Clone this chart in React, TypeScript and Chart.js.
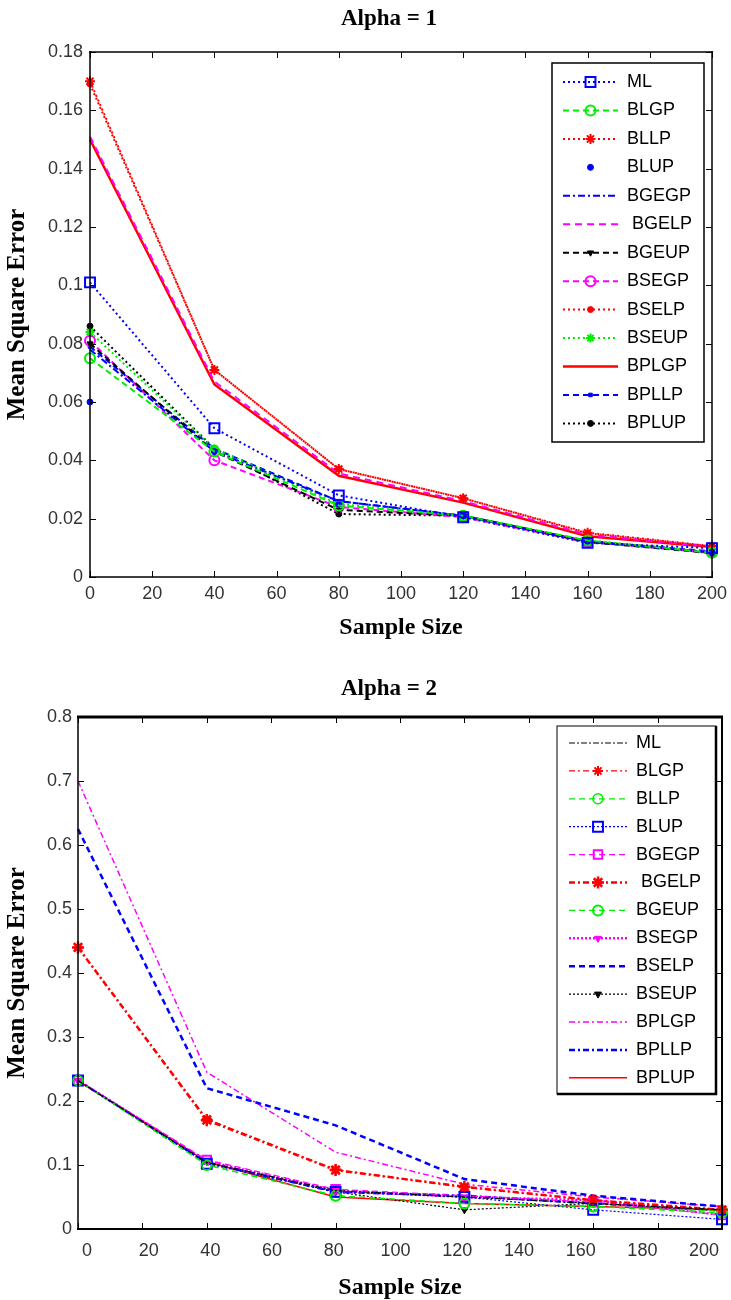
import React, { useEffect, useRef } from 'react';
import { Chart, registerables } from 'chart.js';
import { drawPoint } from 'chart.js/helpers';

Chart.register(...registerables);

// ---------- data ----------
const sampleSizes = [0, 40, 80, 120, 160, 200];
const xTickValues = [0, 20, 40, 60, 80, 100, 120, 140, 160, 180, 200];
const seriesNames = ['ML', 'BLGP', 'BLLP', 'BLUP', 'BGEGP', ' BGELP', 'BGEUP', 'BSEGP', 'BSELP', 'BSEUP', 'BPLGP', 'BPLLP', 'BPLUP'];

// Alpha = 1
const a1ML = [0.101, 0.051, 0.028, 0.0205, 0.0117, 0.0099];
const a1BLGP = [0.075, 0.043, 0.0245, 0.021, 0.0125, 0.0083];
const a1BLLP = [0.170, 0.071, 0.037, 0.027, 0.0152, 0.0106];
const a1BLUP = [0.060, 0.043, 0.025, 0.021, 0.012, 0.0085];
const a1BGEGP = [0.078, 0.043, 0.026, 0.021, 0.0122, 0.0085];
const a1BGELP = [0.151, 0.067, 0.0355, 0.026, 0.0145, 0.0104];
const a1BGEUP = [0.080, 0.043, 0.023, 0.021, 0.012, 0.0082];
const a1BSEGP = [0.081, 0.040, 0.024, 0.0205, 0.012, 0.0085];
const a1BSELP = [0.169, 0.071, 0.037, 0.027, 0.015, 0.0105];
const a1BSEUP = [0.084, 0.044, 0.025, 0.021, 0.0125, 0.0085];
const a1BPLGP = [0.150, 0.066, 0.0347, 0.0255, 0.014, 0.0103];
const a1BPLLP = [0.079, 0.044, 0.026, 0.021, 0.0122, 0.0088];
const a1BPLUP = [0.086, 0.044, 0.0216, 0.021, 0.0123, 0.0082];

// Alpha = 2
const a2ML = [0.232, 0.104, 0.060, 0.050, 0.040, 0.030];
const a2BLGP = [0.440, 0.172, 0.093, 0.065, 0.045, 0.030];
const a2BLLP = [0.232, 0.100, 0.052, 0.040, 0.035, 0.025];
const a2BLUP = [0.232, 0.102, 0.058, 0.050, 0.030, 0.015];
const a2BGEGP = [0.232, 0.108, 0.062, 0.052, 0.042, 0.022];
const a2BGELP = [0.440, 0.170, 0.092, 0.066, 0.045, 0.030];
const a2BGEUP = [0.232, 0.100, 0.052, 0.040, 0.035, 0.028];
const a2BSEGP = [0.232, 0.106, 0.060, 0.050, 0.045, 0.022];
const a2BSELP = [0.625, 0.220, 0.162, 0.078, 0.052, 0.035];
const a2BSEUP = [0.232, 0.105, 0.058, 0.030, 0.040, 0.028];
const a2BPLGP = [0.700, 0.245, 0.120, 0.070, 0.050, 0.035];
const a2BPLLP = [0.232, 0.104, 0.058, 0.052, 0.040, 0.030];
const a2BPLUP = [0.232, 0.105, 0.050, 0.040, 0.035, 0.030];

const alpha1Series = [a1ML, a1BLGP, a1BLLP, a1BLUP, a1BGEGP, a1BGELP, a1BGEUP, a1BSEGP, a1BSELP, a1BSEUP, a1BPLGP, a1BPLLP, a1BPLUP];
const alpha2Series = [a2ML, a2BLGP, a2BLLP, a2BLUP, a2BGEGP, a2BGELP, a2BGEUP, a2BSEGP, a2BSELP, a2BSEUP, a2BPLGP, a2BPLLP, a2BPLUP];

const xMin = 0;
const xMax = 200;
const yMaxAlpha1 = 0.18;
const yStepAlpha1 = 0.02;
const yMaxAlpha2 = 0.8;
const yStepAlpha2 = 0.1;
// the lower figure prints its x labels on a slightly narrower span than its tick marks
const alpha2LabelRange = [-2.9, 205.8];

// ---------- styles ----------
const BLUE = '#0000ff';
const GREEN = '#00ee00';
const RED = '#ff0000';
const MAG = '#ff00ff';
const BLK = '#000000';
const DOT = [2, 3];
const DASH = [6, 4];
const DASHDOT = [7, 3, 2, 3];

const alpha1Styles: any[] = [
  { color: BLUE, dash: DOT, width: 2, point: 'rect', radius: 7, fill: false, pbw: 2 },
  { color: GREEN, dash: DASH, width: 2, point: 'circle', radius: 5, fill: false, pbw: 2 },
  { color: RED, dash: DOT, width: 2, point: 'star', radius: 5, fill: true, pbw: 2 },
  { color: BLUE, dash: [], width: 1, point: 'circle', radius: 3, fill: true, pbw: 1, showLine: false },
  { color: BLUE, dash: DASHDOT, width: 2, point: false, radius: 0, fill: true },
  { color: MAG, dash: [7, 5], width: 2, point: false, radius: 0, fill: true },
  { color: BLK, dash: DASH, width: 2, point: 'triangle', radius: 3.5, fill: true, pbw: 1, rotation: 180 },
  { color: MAG, dash: DASH, width: 2, point: 'circle', radius: 5, fill: false, pbw: 2 },
  { color: RED, dash: DOT, width: 2, point: 'circle', radius: 3, fill: true, pbw: 1 },
  { color: GREEN, dash: DOT, width: 2, point: 'star', radius: 4.5, fill: true, pbw: 2 },
  { color: RED, dash: [], width: 2.5, point: false, radius: 0, fill: true },
  { color: BLUE, dash: DASH, width: 2, point: 'rect', radius: 2.5, fill: true, pbw: 1 },
  { color: BLK, dash: DOT, width: 2, point: 'circle', radius: 3, fill: true, pbw: 1 },
];

const alpha2Styles: any[] = [
  { color: BLK, dash: [6, 2, 2, 2], width: 1.2, point: false, radius: 0, fill: true },
  { color: RED, dash: [6, 3, 2, 3], width: 1.2, point: 'star', radius: 5, fill: true, pbw: 2 },
  { color: GREEN, dash: DASH, width: 1.2, point: 'circle', radius: 5, fill: false, pbw: 1.5 },
  { color: BLUE, dash: [2, 2], width: 1.2, point: 'rect', radius: 7, fill: false, pbw: 2 },
  { color: MAG, dash: DASH, width: 1.2, point: 'rect', radius: 6, fill: false, pbw: 2 },
  { color: RED, dash: [6, 3, 2, 3], width: 2.5, point: 'star', radius: 6, fill: true, pbw: 2.5 },
  { color: GREEN, dash: DASH, width: 1.2, point: 'circle', radius: 5, fill: false, pbw: 2 },
  { color: MAG, dash: [2, 2], width: 2.5, point: 'triangle', radius: 4, fill: true, pbw: 1, rotation: 180 },
  { color: BLUE, dash: [6, 4], width: 2.5, point: false, radius: 0, fill: true },
  { color: BLK, dash: [2, 2], width: 1.2, point: 'triangle', radius: 4, fill: true, pbw: 1, rotation: 180 },
  { color: MAG, dash: [6, 3, 2, 3], width: 1.5, point: false, radius: 0, fill: true },
  { color: BLUE, dash: [6, 3, 2, 3], width: 2.5, point: false, radius: 0, fill: true },
  { color: RED, dash: [], width: 1.5, point: false, radius: 0, fill: true },
];

function makeDataset(label: string, values: number[], s: any) {
  return {
    label,
    xAxisID: 'x',
    yAxisID: 'y',
    data: sampleSizes.map((x, i) => ({ x, y: values[i] })),
    borderColor: s.color,
    borderDash: s.dash,
    borderWidth: s.width,
    pointStyle: s.point || 'circle',
    pointRadius: s.point ? s.radius : 0,
    pointHoverRadius: s.point ? s.radius : 0,
    pointBorderColor: s.color,
    pointBackgroundColor: s.fill ? s.color : 'rgba(255,255,255,0)',
    pointBorderWidth: s.pbw ?? 1,
    pointRotation: s.rotation || 0,
    showLine: s.showLine !== false,
    tension: 0,
    fill: false,
    clip: false,
  };
}

// ---------- plugins ----------
const framePlugin = {
  id: 'frame',
  afterDatasetsDraw(chart: any, _args: any, opts: any) {
    const { ctx, chartArea } = chart;
    const { left, right, top, bottom } = chartArea;
    const xs = chart.scales.x;
    const ys = chart.scales.y;
    ctx.save();
    ctx.setLineDash([]);
    ctx.strokeStyle = '#000';
    ctx.lineWidth = 1;
    ctx.beginPath();
    xTickValues.forEach((v) => {
      const px = Math.round(xs.getPixelForValue(v)) + 0.5;
      ctx.moveTo(px, bottom);
      ctx.lineTo(px, bottom - opts.tickLen);
      ctx.moveTo(px, top);
      ctx.lineTo(px, top + opts.tickLen);
    });
    ys.ticks.forEach((t: any) => {
      const py = Math.round(ys.getPixelForValue(t.value)) + 0.5;
      ctx.moveTo(left, py);
      ctx.lineTo(left + opts.tickLen, py);
      ctx.moveTo(right, py);
      ctx.lineTo(right - opts.tickLen, py);
    });
    ctx.stroke();
    const edge = (w: number, x1: number, y1: number, x2: number, y2: number) => {
      ctx.lineWidth = w;
      ctx.beginPath();
      ctx.moveTo(x1, y1);
      ctx.lineTo(x2, y2);
      ctx.stroke();
    };
    edge(opts.topW, left - 1, top, right + 1, top);
    edge(opts.bottomW, left - 1, bottom, right + 1, bottom);
    edge(opts.leftW, left, top - 1, left, bottom + 1);
    edge(opts.rightW, right, top - 1, right, bottom + 1);
    ctx.restore();
  },
};

const boxLegendPlugin = {
  id: 'boxLegend',
  afterDraw(chart: any, _args: any, opts: any) {
    const { ctx, chartArea } = chart;
    const left = chartArea.right - opts.offsetRight;
    const top = chartArea.top + opts.offsetTop;
    ctx.save();
    ctx.setLineDash([]);
    ctx.fillStyle = '#fff';
    ctx.fillRect(left, top, opts.width, opts.height);
    ctx.strokeStyle = '#000';
    ctx.lineWidth = opts.borderWidth;
    ctx.strokeRect(left, top, opts.width, opts.height);
    if (opts.shadow) {
      ctx.lineWidth = opts.shadow;
      ctx.beginPath();
      ctx.moveTo(left + opts.width, top);
      ctx.lineTo(left + opts.width, top + opts.height);
      ctx.lineTo(left, top + opts.height);
      ctx.stroke();
    }
    chart.data.datasets.forEach((ds: any, i: number) => {
      const y = top + opts.firstRow + i * opts.rowGap;
      const x1 = left + opts.lineStart;
      const x2 = left + opts.lineEnd;
      if (ds.showLine !== false) {
        ctx.beginPath();
        ctx.setLineDash(ds.borderDash || []);
        ctx.lineWidth = ds.borderWidth;
        ctx.strokeStyle = ds.borderColor;
        ctx.moveTo(x1, y);
        ctx.lineTo(x2, y);
        ctx.stroke();
      }
      if (ds.pointRadius > 0) {
        ctx.setLineDash([]);
        ctx.fillStyle = ds.pointBackgroundColor;
        ctx.strokeStyle = ds.pointBorderColor;
        ctx.lineWidth = ds.pointBorderWidth;
        drawPoint(ctx, {
          pointStyle: ds.pointStyle,
          rotation: ds.pointRotation,
          radius: ds.pointRadius,
          borderWidth: ds.pointBorderWidth,
        }, (x1 + x2) / 2, y);
      }
      ctx.fillStyle = '#000';
      ctx.font = opts.font;
      ctx.textBaseline = 'middle';
      ctx.textAlign = 'left';
      ctx.fillText(ds.label, left + opts.textX, y);
    });
    ctx.restore();
  },
};

const fmt = (v: any) => String(Number(Number(v).toFixed(4)));

function buildConfig(p: any) {
  const labelAxis = {
    type: 'linear',
    position: 'bottom',
    min: p.labelRange ? p.labelRange[0] : xMin,
    max: p.labelRange ? p.labelRange[1] : xMax,
    grid: { display: false, drawTicks: false },
    border: { display: false },
    afterBuildTicks(scale: any) {
      scale.ticks = xTickValues.map((v) => ({ value: v }));
    },
    ticks: {
      autoSkip: false,
      maxRotation: 0,
      padding: p.xTickPad,
      color: '#333',
      font: { family: 'Liberation Sans', size: 18 },
      callback: fmt,
    },
    title: {
      display: true,
      text: 'Sample Size',
      color: '#000',
      font: { family: 'Liberation Serif', size: 24, weight: 'bold', lineHeight: 1 },
      padding: { top: 0, bottom: p.xTitlePad },
    },
    afterFit(scale: any) {
      scale.height = p.xHeight;
      scale.paddingLeft = 0;
      scale.paddingRight = 0;
    },
  };
  const scales: any = {
    x: p.labelRange
      ? { type: 'linear', min: xMin, max: xMax, display: false }
      : labelAxis,
    y: {
      type: 'linear',
      min: 0,
      max: p.yMax,
      grid: { display: false, drawTicks: false },
      border: { display: false },
      ticks: {
        stepSize: p.yStep,
        autoSkip: false,
        padding: p.yTickPad,
        color: '#333',
        font: { family: 'Liberation Sans', size: 18 },
        callback: fmt,
      },
      title: {
        display: true,
        text: 'Mean Square Error',
        color: '#000',
        font: { family: 'Liberation Serif', size: 25, weight: 'bold', lineHeight: 1.2 },
        padding: { top: 3, bottom: 0 },
      },
      afterFit(scale: any) {
        scale.width = p.yWidth;
        scale.paddingTop = 0;
        scale.paddingBottom = 0;
      },
    },
  };
  if (p.labelRange) scales.xl = labelAxis;
  return {
    type: 'line',
    data: {
      datasets: seriesNames.map((n, i) => makeDataset(n, p.series[i], p.styles[i])),
    },
    options: {
      responsive: false,
      maintainAspectRatio: false,
      animation: false,
      events: [],
      layout: { padding: p.padding },
      plugins: {
        legend: { display: false },
        tooltip: { enabled: false },
        title: { display: false },
        frame: p.frame,
        boxLegend: p.legend,
      },
      scales,
    },
    plugins: [framePlugin, boxLegendPlugin],
  };
}

const alpha1Config = () => buildConfig({
  series: alpha1Series,
  styles: alpha1Styles,
  yMax: yMaxAlpha1,
  yStep: yStepAlpha1,
  padding: { top: 52, right: 19, bottom: 0, left: 0 },
  yWidth: 90,
  xHeight: 68,
  xTickPad: 6,
  yTickPad: 7,
  xTitlePad: 5,
  frame: { tickLen: 6, topW: 1.5, bottomW: 1.5, leftW: 1.5, rightW: 1.5 },
  legend: {
    offsetRight: 160, offsetTop: 11, width: 152, height: 379,
    firstRow: 19, rowGap: 28.45, lineStart: 11, lineEnd: 66, textX: 75,
    borderWidth: 1.5, shadow: 0, font: '18px "Liberation Sans"',
  },
});

const alpha2Config = () => buildConfig({
  series: alpha2Series,
  styles: alpha2Styles,
  yMax: yMaxAlpha2,
  yStep: yStepAlpha2,
  labelRange: alpha2LabelRange,
  padding: { top: 72, right: 8, bottom: 0, left: 0 },
  yWidth: 78,
  xHeight: 71,
  xTickPad: 11,
  yTickPad: 6,
  xTitlePad: 0,
  frame: { tickLen: 6, topW: 3, bottomW: 2, leftW: 1.5, rightW: 2 },
  legend: {
    offsetRight: 165, offsetTop: 9, width: 159, height: 368,
    firstRow: 17, rowGap: 27.9, lineStart: 12, lineEnd: 70, textX: 79,
    borderWidth: 1, shadow: 2.5, font: '18px "Liberation Sans"',
  },
});

function Panel({ top, height, build }: { top: number; height: number; build: () => any }) {
  const ref = useRef<HTMLCanvasElement | null>(null);
  useEffect(() => {
    const chart = new Chart(ref.current as HTMLCanvasElement, build());
    return () => chart.destroy();
  }, []);
  return (
    <canvas
      ref={ref}
      width={731}
      height={height}
      style={{ position: 'absolute', left: 0, top, width: 731, height }}
    />
  );
}

const titleStyle: any = {
  position: 'absolute',
  left: 0,
  width: 778,
  textAlign: 'center',
  fontFamily: '"Liberation Serif", serif',
  fontWeight: 'bold',
  fontSize: 23,
  lineHeight: '28px',
  color: '#000',
};

export default function App() {
  return (
    <div style={{ position: 'absolute', left: 0, top: 0, width: 731, height: 1300, background: '#fff' }}>
      <Panel top={0} height={645} build={alpha1Config} />
      <Panel top={645} height={655} build={alpha2Config} />
      <div style={{ ...titleStyle, top: 4 }}>Alpha = 1</div>
      <div style={{ ...titleStyle, top: 674 }}>Alpha = 2</div>
    </div>
  );
}
